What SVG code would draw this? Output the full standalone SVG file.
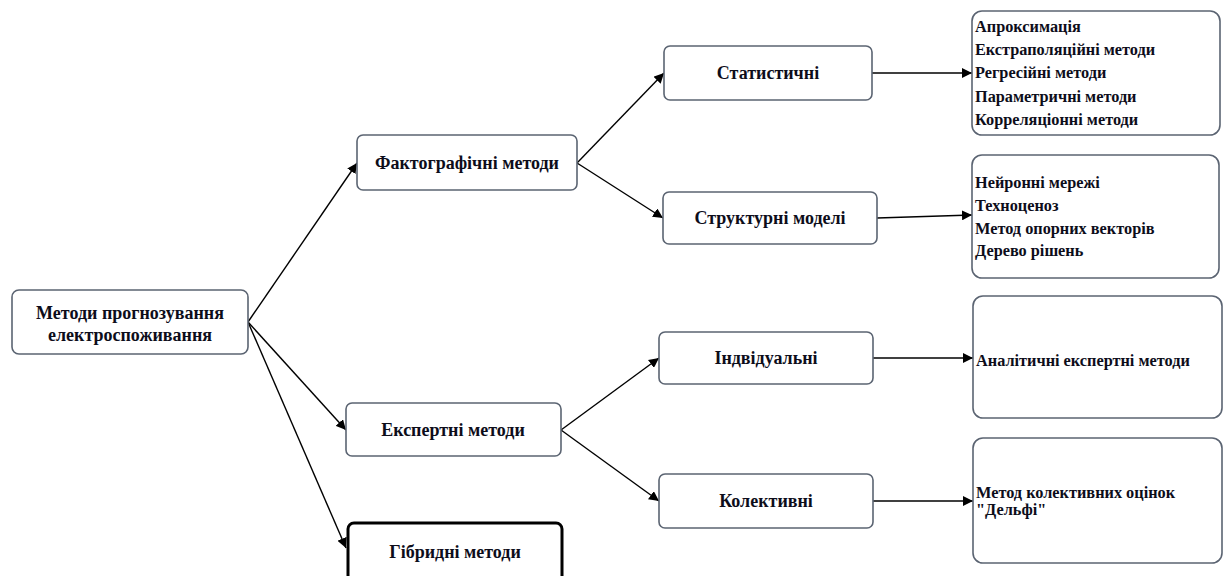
<svg xmlns="http://www.w3.org/2000/svg" width="1224" height="576" viewBox="0 0 1224 576">
<defs>
<marker id="ah" viewBox="0 0 10 10" refX="10" refY="5" markerWidth="10" markerHeight="10" markerUnits="userSpaceOnUse" orient="auto">
<path d="M0,0 L10,5 L0,10 z" fill="#000"/>
</marker>
</defs>
<style>
.box{fill:#fff;stroke:#5b6472;stroke-width:1.6}
.thick{fill:#fff;stroke:#000;stroke-width:3}
.t{font-family:"Liberation Serif","Times New Roman",serif;font-weight:bold;font-size:18px;fill:#0d0d1a}
.c{text-anchor:middle}
.s{font-size:16.3px}
.con line{stroke:#000;stroke-width:1.4;marker-end:url(#ah)}
</style>
<rect width="1224" height="576" fill="#fff"/>
<g class="con">
<line x1="248" y1="322" x2="357" y2="163"/>
<line x1="248" y1="322" x2="346" y2="430"/>
<line x1="248" y1="322" x2="346" y2="548"/>
<line x1="577" y1="163" x2="664" y2="73"/>
<line x1="577" y1="163" x2="663" y2="218"/>
<line x1="872" y1="73" x2="972" y2="73"/>
<line x1="877" y1="218" x2="972" y2="215"/>
<line x1="561" y1="430" x2="659" y2="358"/>
<line x1="561" y1="430" x2="659" y2="501"/>
<line x1="873" y1="358" x2="973" y2="358"/>
<line x1="873" y1="501" x2="973" y2="501"/>
</g>
<g id="root">
<rect class="box" x="12" y="290" width="236" height="64" rx="7"/>
<text class="t c" x="130" y="319">Методи прогнозування</text>
<text class="t c" x="130" y="341">електроспоживання</text>
</g>
<g id="fakt">
<rect class="box" x="357" y="135" width="220" height="55" rx="6"/>
<text class="t c" x="467" y="169">Фактографічні методи</text>
</g>
<g id="ekspert">
<rect class="box" x="346" y="403" width="215" height="53" rx="6"/>
<text class="t c" x="453" y="436">Експертні методи</text>
</g>
<g id="hybrid">
<rect class="thick" x="348" y="523" width="214" height="60" rx="6"/>
<text class="t c" x="455" y="558">Гібридні методи</text>
</g>
<g id="stat">
<rect class="box" x="664" y="46" width="208" height="54" rx="6"/>
<text class="t c" x="768" y="79">Статистичні</text>
</g>
<g id="struct">
<rect class="box" x="663" y="192" width="214" height="52" rx="6"/>
<text class="t c" x="770" y="224">Структурні моделі</text>
</g>
<g id="indiv">
<rect class="box" x="659" y="332" width="214" height="52" rx="6"/>
<text class="t c" x="766" y="364">Індвідуальні</text>
</g>
<g id="kolekt">
<rect class="box" x="659" y="474" width="214" height="54" rx="6"/>
<text class="t c" x="766" y="507">Колективні</text>
</g>
<g id="statlist">
<rect class="box" x="972" y="11" width="248" height="124" rx="10"/>
<text class="t s" x="975" y="32">Апроксимація</text>
<text class="t s" x="975" y="55">Екстраполяційні методи</text>
<text class="t s" x="975" y="78">Регресійні методи</text>
<text class="t s" x="975" y="102">Параметричні методи</text>
<text class="t s" x="975" y="125">Корреляціонні методи</text>
</g>
<g id="structlist">
<rect class="box" x="972" y="155" width="247" height="123" rx="10"/>
<text class="t s" x="975" y="188">Нейронні мережі</text>
<text class="t s" x="975" y="211">Техноценоз</text>
<text class="t s" x="975" y="234">Метод опорних векторів</text>
<text class="t s" x="975" y="256">Дерево рішень</text>
</g>
<g id="analit">
<rect class="box" x="973" y="296" width="249" height="122" rx="10"/>
<text class="t s" x="976" y="366">Аналітичні експертні методи</text>
</g>
<g id="delfi">
<rect class="box" x="973" y="438" width="249" height="125" rx="10"/>
<text class="t s" x="976" y="498">Метод колективних оцінок</text>
<text class="t s" x="976" y="515">"Дельфі"</text>
</g>
</svg>
